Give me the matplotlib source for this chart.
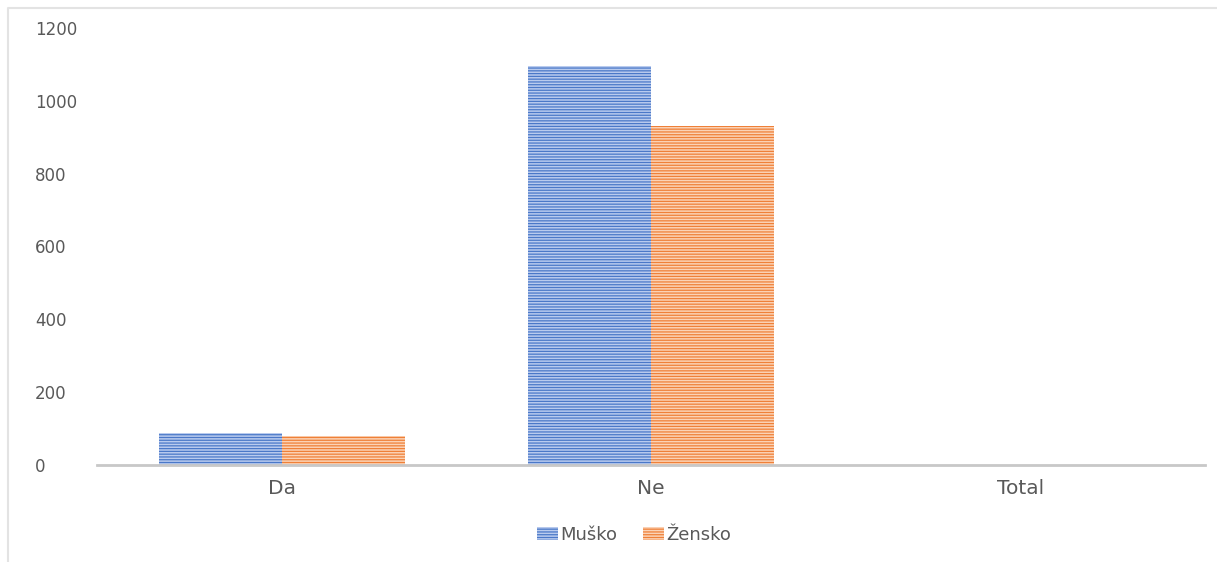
import matplotlib.pyplot as plt
from matplotlib.lines import Line2D
import numpy as np

categories = ['Da', 'Ne', 'Total']
musko = [88, 1095, 0]
zensko = [80, 931, 0]
series_names = ['Muško', 'Žensko']

plt.rcParams['font.family'] = ['DejaVu Sans']
plt.rcParams['hatch.linewidth'] = 0.9

fig = plt.figure(figsize=(12.17, 5.62), dpi=100)
ax = fig.add_axes([0.0797, 0.1726, 0.9103, 0.7776])

x = np.arange(len(categories))
w = 0.333
hatch = '-' * 6
b1 = ax.bar(x - w / 2, musko, w, color='#b9cbee', edgecolor='#4a78c8',
            hatch=hatch, linewidth=0, label=series_names[0])
b2 = ax.bar(x + w / 2, zensko, w, color='#fbd3b6', edgecolor='#ef8038',
            hatch=hatch, linewidth=0, label=series_names[1])

ax.set_xlim(-0.5, 2.5)
ax.set_ylim(0, 1200)
ax.set_yticks(range(0, 1201, 200))
ax.set_xticks(x)
ax.set_xticklabels(categories, fontsize=14.5, color='#595959')
ax.tick_params(axis='y', length=0, labelsize=12, labelcolor='#595959', pad=44.6)
ax.tick_params(axis='x', length=0, pad=10)
for lbl in ax.get_yticklabels():
    lbl.set_horizontalalignment('left')

for s in ['top', 'right', 'left']:
    ax.spines[s].set_visible(False)
ax.spines['bottom'].set_color('#c8c8c8')
ax.spines['bottom'].set_linewidth(2)

leg = fig.legend(handles=[b1, b2], loc='center', bbox_to_anchor=(0.521, 0.048),
                 ncol=2, frameon=False, fontsize=13, handlelength=1.15,
                 handleheight=0.7, handletextpad=0.15, columnspacing=1.4)
for t in leg.get_texts():
    t.set_color('#595959')

# chart frame: only the left and top edges fall inside the image
fx, fy = 8 / 1217, 1 - 8 / 562
fig.add_artist(Line2D([fx, fx, 1], [0, fy, fy], transform=fig.transFigure,
                      color='#e3e3e3', linewidth=1.5))

fig.savefig('out.png', dpi=100)
